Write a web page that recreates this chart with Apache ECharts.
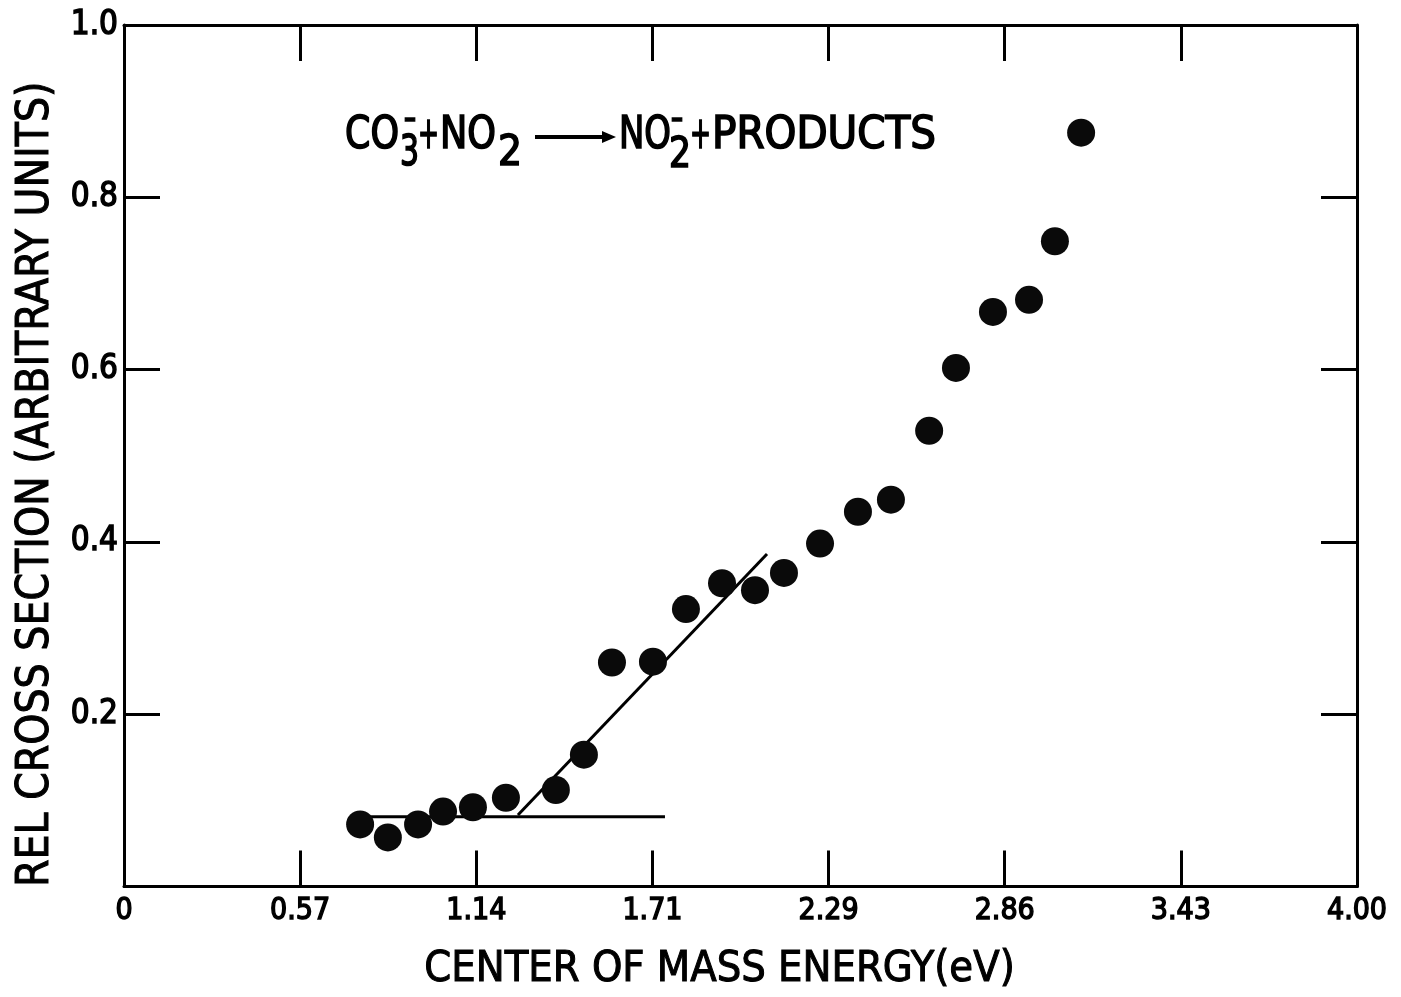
<!DOCTYPE html>
<html lang="en">
<head>
    <meta charset="utf-8">
    <title>CO3- + NO2 cross section</title>
    <script src="https://cdn.jsdelivr.net/npm/echarts@6/dist/echarts.min.js"></script>
    <style>
        html, body { margin: 0; padding: 0; background: #fff; overflow: hidden; }
        #chart { width: 100vw; height: 100vh; }
    </style>
</head>
<body>
<div id="chart"></div>
<script type="text/javascript">
    // center of mass energy (eV) and relative cross section
    var energy = [0.766, 0.856, 0.954, 1.035, 1.132, 1.239, 1.401, 1.492, 1.583, 1.716, 1.823, 1.940,
        2.047, 2.141, 2.258, 2.381, 2.488, 2.612, 2.699, 2.819, 2.936, 3.020, 3.105];
    var crossSection = [0.072, 0.057, 0.072, 0.087, 0.092, 0.103, 0.112, 0.153, 0.260, 0.261, 0.322, 0.352,
        0.344, 0.364, 0.398, 0.435, 0.449, 0.529, 0.602, 0.667, 0.681, 0.749, 0.875];
    // hand drawn fit lines
    var plateauX = [0.766, 1.755];
    var plateauY = [0.081, 0.081];
    var slopeX = [1.278, 2.086];
    var slopeY = [0.083, 0.386];
    var xTickLabels = ['0', '0.57', '1.14', '1.71', '2.29', '2.86', '3.43', '4.00'];

    var FONT = '"DejaVu Sans Condensed", "DejaVu Sans", sans-serif';
    var chart = echarts.init(document.getElementById('chart'));
    // layout below is in 1401x997 page units, follow the real viewport
    var sx = chart.getWidth() / 1401;
    var sy = chart.getHeight() / 997;

    function pairs(xs, ys) {
        return xs.map(function (x, i) { return [x, ys[i]]; });
    }

    // squeeze a piece of lettering to the width it has on the original
    var ctx = document.createElement('canvas').getContext('2d');
    function squeeze(s, size, w) {
        ctx.font = size + 'px ' + FONT;
        return w / ctx.measureText(s).width;
    }

    var axisLine = {show: true, onZero: false, lineStyle: {color: '#000', width: 3}};
    var axisTick = {show: true, inside: true, length: 36, lineStyle: {color: '#000', width: 3}};

    // reaction formula: text, left, width, bottom of text box, font size
    var formula = [
        ['CO', 345, 54, 159, 45],
        ['3', 400, 19, 175, 43],
        ['\u2013', 404, 12, 141, 40],
        ['+', 418, 21, 159, 45],
        ['NO', 440, 56, 159, 45],
        ['2', 498, 24, 175, 43],
        ['NO', 619, 52, 159, 45],
        ['2', 669, 22, 177, 43],
        ['\u2013', 671, 12, 141, 40],
        ['+', 690, 21, 159, 45],
        ['PRODUCTS', 712, 224, 159, 45]
    ];
    var graphics = formula.map(function (f) {
        return {
            type: 'text', x: f[1] * sx, y: f[3] * sy, scaleX: squeeze(f[0], f[4], f[2]) * sx,
            style: {
                text: f[0], fill: '#000', stroke: '#000', lineWidth: 1.6,
                font: f[4] + 'px ' + FONT, verticalAlign: 'bottom'
            }
        };
    });
    // reaction arrow
    graphics.push({
        type: 'line', shape: {x1: 535 * sx, y1: 137 * sy, x2: 604 * sx, y2: 137 * sy},
        style: {stroke: '#000', lineWidth: 4}
    });
    graphics.push({
        type: 'polygon', shape: {points: [[602 * sx, 137 * sy - 6], [616 * sx, 137 * sy], [602 * sx, 137 * sy + 6]]},
        style: {fill: '#000'}
    });

    var labelStyle = {color: '#000', fontFamily: FONT, textBorderColor: '#000', textBorderWidth: 1.4};

    chart.setOption({
        animation: false,
        backgroundColor: '#fff',
        grid: {left: 124 * sx, width: 1233 * sx, top: 25 * sy, height: 867 * sy, containLabel: false},
        graphic: graphics,
        xAxis: [{
            type: 'value', min: 0, max: 4, interval: 4 / 7, position: 'bottom',
            name: 'CENTER OF MASS ENERGY(eV)', nameLocation: 'middle', nameGap: 62 * sy,
            nameTextStyle: Object.assign({fontSize: 43, padding: [0, 42, 0, 0]}, labelStyle, {textBorderWidth: 1}),
            axisLine: axisLine, axisTick: axisTick, splitLine: {show: false},
            axisLabel: Object.assign({
                fontSize: 30, margin: 10 * sy,
                formatter: function (v) { return xTickLabels[Math.round(v * 7 / 4)]; }
            }, labelStyle)
        }, {
            type: 'value', min: 0, max: 4, interval: 4 / 7, position: 'top',
            axisLine: axisLine, axisTick: axisTick, splitLine: {show: false},
            axisLabel: {show: false}
        }],
        yAxis: [{
            type: 'value', min: 0, max: 1, interval: 0.2, position: 'left',
            name: 'REL CROSS SECTION (ARBITRARY UNITS)', nameLocation: 'middle', nameGap: 64,
            nameTextStyle: Object.assign({fontSize: 44, padding: [0, 57 * sy, 0, 0]}, labelStyle, {textBorderWidth: 1}),
            axisLine: axisLine, axisTick: axisTick, splitLine: {show: false},
            axisLabel: Object.assign({
                fontSize: 33, margin: 6,
                formatter: function (v) { return v === 0 ? '' : v.toFixed(1); }
            }, labelStyle)
        }, {
            type: 'value', min: 0, max: 1, interval: 0.2, position: 'right',
            axisLine: axisLine, axisTick: axisTick, splitLine: {show: false},
            axisLabel: {show: false}
        }],
        series: [{
            type: 'line', data: pairs(plateauX, plateauY), showSymbol: false,
            lineStyle: {color: '#000', width: 3}, z: 2
        }, {
            type: 'line', data: pairs(slopeX, slopeY), showSymbol: false,
            lineStyle: {color: '#000', width: 3}, z: 2
        }, {
            type: 'scatter', data: pairs(energy, crossSection),
            symbol: 'circle', symbolSize: 28,
            itemStyle: {color: '#0a0a0a', opacity: 1}, z: 3
        }]
    });
</script>
</body>
</html>
